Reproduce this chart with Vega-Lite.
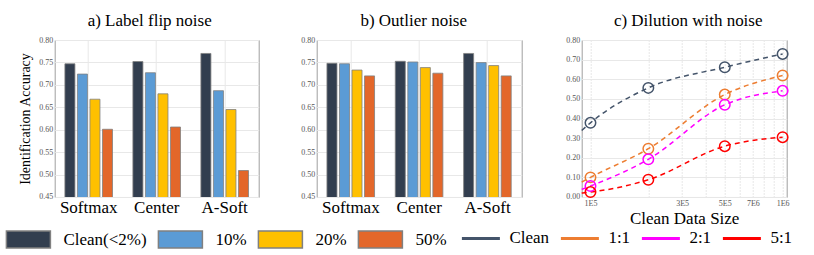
{
  "$schema": "https://vega.github.io/schema/vega-lite/v6.json",
  "padding": {"left": 4.7, "top": 11, "right": 0, "bottom": 0},
  "config": {
    "font": "Liberation Serif",
    "view": {"stroke": "#a0a0a0", "strokeWidth": 1},
    "axis": {"domain": false, "ticks": false, "labelFont": "Liberation Serif", "titleFont": "Liberation Serif", "gridColor": "#e8e8e8", "gridWidth": 1, "labelColor": "#555555", "titleColor": "#000000", "titleFontWeight": "normal"},
    "title": {"font": "Liberation Serif", "fontSize": 17, "fontWeight": "normal", "color": "#000000", "baseline": "alphabetic", "offset": 6.3}
  },
  "spacing": 40,
  "hconcat": [
    {
      "width": 204,
      "height": 157,
      "title": {"text": "a) Label flip noise", "dx": -7},
      "data": {"values": [
        {"method": "Softmax", "noise": "Clean(<2%)", "acc": 0.747},
        {"method": "Softmax", "noise": "10%", "acc": 0.724},
        {"method": "Softmax", "noise": "20%", "acc": 0.668},
        {"method": "Softmax", "noise": "50%", "acc": 0.601},
        {"method": "Center", "noise": "Clean(<2%)", "acc": 0.752},
        {"method": "Center", "noise": "10%", "acc": 0.727},
        {"method": "Center", "noise": "20%", "acc": 0.680},
        {"method": "Center", "noise": "50%", "acc": 0.606},
        {"method": "A-Soft", "noise": "Clean(<2%)", "acc": 0.770},
        {"method": "A-Soft", "noise": "10%", "acc": 0.687},
        {"method": "A-Soft", "noise": "20%", "acc": 0.645},
        {"method": "A-Soft", "noise": "50%", "acc": 0.509}
      ]},
      "mark": {"type": "bar", "stroke": "#808080", "strokeWidth": 0.8, "clip": true},
      "encoding": {
        "x": {"field": "method", "type": "nominal", "sort": ["Softmax", "Center", "A-Soft"], "scale": {"paddingInner": 0.3, "paddingOuter": 0.15}, "axis": {"title": null, "labelAngle": 0, "labelFontSize": 17, "labelColor": "#000000", "labelPadding": 3, "grid": true, "bandPosition": 0.5}},
        "xOffset": {"field": "noise", "type": "nominal", "sort": ["Clean(<2%)", "10%", "20%", "50%"], "scale": {"paddingInner": 0.2}},
        "y": {"field": "acc", "type": "quantitative", "scale": {"domain": [0.45, 0.8], "zero": false, "nice": false}, "axis": {"title": "Identification Accuracy", "titleFontSize": 14, "values": [0.45, 0.5, 0.55, 0.6, 0.65, 0.7, 0.75, 0.8], "format": ".2f", "labelFontSize": 8, "labelPadding": 2, "grid": true, "titlePadding": 6}},
        "fill": {"field": "noise", "type": "nominal", "scale": {"domain": ["Clean(<2%)", "10%", "20%", "50%"], "range": ["#323e4f", "#5b9bd5", "#ffc000", "#e3672a"]},
          "legend": {"title": null, "orient": "none", "direction": "horizontal", "gridAlign": "each", "padding": 0, "legendX": -49.3, "legendY": 176.3, "labelFont": "Liberation Serif", "labelFontSize": 17, "labelColor": "#000000", "labelOffset": 12, "columnPadding": 8, "symbolType": "M-1,-0.386H1V0.386H-1Z", "symbolSize": 1936, "symbolOpacity": 1,
            "encode": {"symbols": {"strokeWidth": {"value": 0}}}}}
      }
    },
    {
      "width": 205,
      "height": 157,
      "title": {"text": "b) Outlier noise", "dx": -5.5},
      "data": {"values": [
        {"method": "Softmax", "noise": "Clean(<2%)", "acc": 0.748},
        {"method": "Softmax", "noise": "10%", "acc": 0.747},
        {"method": "Softmax", "noise": "20%", "acc": 0.733},
        {"method": "Softmax", "noise": "50%", "acc": 0.720},
        {"method": "Center", "noise": "Clean(<2%)", "acc": 0.7525},
        {"method": "Center", "noise": "10%", "acc": 0.751},
        {"method": "Center", "noise": "20%", "acc": 0.7385},
        {"method": "Center", "noise": "50%", "acc": 0.726},
        {"method": "A-Soft", "noise": "Clean(<2%)", "acc": 0.770},
        {"method": "A-Soft", "noise": "10%", "acc": 0.7496},
        {"method": "A-Soft", "noise": "20%", "acc": 0.743},
        {"method": "A-Soft", "noise": "50%", "acc": 0.720}
      ]},
      "mark": {"type": "bar", "stroke": "#808080", "strokeWidth": 0.8, "clip": true},
      "encoding": {
        "x": {"field": "method", "type": "nominal", "sort": ["Softmax", "Center", "A-Soft"], "scale": {"paddingInner": 0.3, "paddingOuter": 0.15}, "axis": {"title": null, "labelAngle": 0, "labelFontSize": 17, "labelColor": "#000000", "labelPadding": 3, "grid": true, "bandPosition": 0.5}},
        "xOffset": {"field": "noise", "type": "nominal", "sort": ["Clean(<2%)", "10%", "20%", "50%"], "scale": {"paddingInner": 0.2}},
        "y": {"field": "acc", "type": "quantitative", "scale": {"domain": [0.45, 0.8], "zero": false, "nice": false}, "axis": {"title": null, "values": [0.45, 0.5, 0.55, 0.6, 0.65, 0.7, 0.75, 0.8], "format": ".2f", "labelFontSize": 8, "labelPadding": 2, "grid": true}},
        "fill": {"field": "noise", "type": "nominal", "scale": {"domain": ["Clean(<2%)", "10%", "20%", "50%"], "range": ["#323e4f", "#5b9bd5", "#ffc000", "#e3672a"]},
          "legend": {"title": null, "orient": "none", "direction": "horizontal", "gridAlign": "each", "padding": 0, "legendX": -49.3, "legendY": 176.3, "labelFont": "Liberation Serif", "labelFontSize": 17, "labelColor": "#000000", "labelOffset": 12, "columnPadding": 8, "symbolType": "M-1,-0.386H1V0.386H-1Z", "symbolSize": 1936, "symbolOpacity": 1,
            "encode": {"symbols": {"strokeWidth": {"value": 0}}}}}
      }
    },
    {
      "width": 205,
      "height": 157,
      "title": {"text": "c) Dilution with noise", "dx": 4},
      "data": {"values": [
        {"series": "Clean", "size": 90000, "acc": 0.339, "m": false},
        {"series": "Clean", "size": 100000, "acc": 0.378, "m": true},
        {"series": "Clean", "size": 200000, "acc": 0.556, "m": true},
        {"series": "Clean", "size": 500000, "acc": 0.661, "m": true},
        {"series": "Clean", "size": 1000000, "acc": 0.729, "m": true},
        {"series": "1:1", "size": 90000, "acc": 0.076, "m": false},
        {"series": "1:1", "size": 100000, "acc": 0.100, "m": true},
        {"series": "1:1", "size": 200000, "acc": 0.246, "m": true},
        {"series": "1:1", "size": 500000, "acc": 0.522, "m": true},
        {"series": "1:1", "size": 1000000, "acc": 0.619, "m": true},
        {"series": "2:1", "size": 90000, "acc": 0.039, "m": false},
        {"series": "2:1", "size": 100000, "acc": 0.056, "m": true},
        {"series": "2:1", "size": 200000, "acc": 0.192, "m": true},
        {"series": "2:1", "size": 500000, "acc": 0.470, "m": true},
        {"series": "2:1", "size": 1000000, "acc": 0.541, "m": true},
        {"series": "5:1", "size": 90000, "acc": 0.020, "m": false},
        {"series": "5:1", "size": 100000, "acc": 0.025, "m": true},
        {"series": "5:1", "size": 200000, "acc": 0.088, "m": true},
        {"series": "5:1", "size": 500000, "acc": 0.259, "m": true},
        {"series": "5:1", "size": 1000000, "acc": 0.305, "m": true}
      ]},
      "encoding": {
        "x": {"field": "size", "type": "quantitative", "scale": {"type": "log", "domain": [90000, 1050000], "nice": false}, "axis": {"title": "Clean Data Size", "titleFontSize": 17, "titlePadding": 3, "values": [100000, 200000, 300000, 400000, 500000, 600000, 700000, 800000, 900000, 1000000], "labelExpr": "datum.value == 100000 ? '1E5' : datum.value == 300000 ? '3E5' : datum.value == 500000 ? '5E5' : datum.value == 700000 ? '7E6' : datum.value == 1000000 ? '1E6' : ''", "labelFontSize": 8, "labelPadding": 3, "labelFlush": false, "labelOverlap": false, "grid": true, "gridDash": [1, 2], "gridColor": "#d0d0d0"}},
        "y": {"field": "acc", "type": "quantitative", "scale": {"domain": [0, 0.8], "nice": false}, "axis": {"title": null, "values": [0, 0.1, 0.2, 0.3, 0.4, 0.5, 0.6, 0.7, 0.8], "format": ".2f", "labelFontSize": 8, "labelPadding": 2, "grid": true, "minExtent": 18}},
        "stroke": {"field": "series", "type": "nominal", "scale": {"domain": ["Clean", "1:1", "2:1", "5:1"], "range": ["#44546a", "#ed7d31", "#ff00ff", "#ff0000"]}, "legend": {"title": null, "orient": "none", "direction": "horizontal", "gridAlign": "each", "padding": 0, "legendX": 405.7, "legendY": 177.7, "labelFont": "Liberation Serif", "labelFontSize": 17, "labelColor": "#000000", "labelOffset": 8, "columnPadding": 5, "symbolType": "stroke", "symbolSize": 1444, "symbolStrokeWidth": 3, "symbolDash": [1, 0], "symbolOpacity": 1}}
      },
      "layer": [
        {"mark": {"type": "line", "interpolate": "monotone", "strokeDash": [5, 4], "strokeWidth": 1.5}},
        {"transform": [{"filter": "datum.m"}], "mark": {"type": "point", "filled": false, "size": 110, "strokeWidth": 1.5, "opacity": 1}}
      ]
    }
  ]
}
